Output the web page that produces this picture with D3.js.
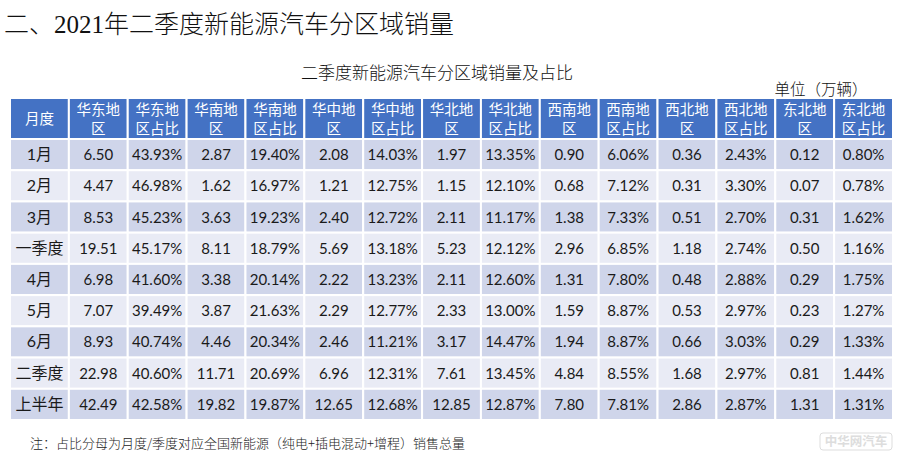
<!DOCTYPE html>
<html>
<head>
<meta charset="utf-8">
<script src="https://cdn.jsdelivr.net/npm/d3@7"></script>
<style>
  body { margin: 0; background: #fff; }
  svg { display: block; }
</style>
</head>
<body>
<div id="root"></div>
<script>
// row labels and region names
var periods = ["1月", "2月", "3月", "一季度", "4月", "5月", "6月", "二季度", "上半年"];
var regions = ["华东", "华南", "华中", "华北", "西南", "西北", "东北"];

// sales (万辆) and share (%) per region, in the order of periods
var huadongSales = [6.50, 4.47, 8.53, 19.51, 6.98, 7.07, 8.93, 22.98, 42.49];
var huadongShare = [43.93, 46.98, 45.23, 45.17, 41.60, 39.49, 40.74, 40.60, 42.58];
var huananSales = [2.87, 1.62, 3.63, 8.11, 3.38, 3.87, 4.46, 11.71, 19.82];
var huananShare = [19.40, 16.97, 19.23, 18.79, 20.14, 21.63, 20.34, 20.69, 19.87];
var huazhongSales = [2.08, 1.21, 2.40, 5.69, 2.22, 2.29, 2.46, 6.96, 12.65];
var huazhongShare = [14.03, 12.75, 12.72, 13.18, 13.23, 12.77, 11.21, 12.31, 12.68];
var huabeiSales = [1.97, 1.15, 2.11, 5.23, 2.11, 2.33, 3.17, 7.61, 12.85];
var huabeiShare = [13.35, 12.10, 11.17, 12.12, 12.60, 13.00, 14.47, 13.45, 12.87];
var xinanSales = [0.90, 0.68, 1.38, 2.96, 1.31, 1.59, 1.94, 4.84, 7.80];
var xinanShare = [6.06, 7.12, 7.33, 6.85, 7.80, 8.87, 8.87, 8.55, 7.81];
var xibeiSales = [0.36, 0.31, 0.51, 1.18, 0.48, 0.53, 0.66, 1.68, 2.86];
var xibeiShare = [2.43, 3.30, 2.70, 2.74, 2.88, 2.97, 3.03, 2.97, 2.87];
var dongbeiSales = [0.12, 0.07, 0.31, 0.50, 0.29, 0.23, 0.29, 0.81, 1.31];
var dongbeiShare = [0.80, 0.78, 1.62, 1.16, 1.75, 1.27, 1.33, 1.44, 1.31];

var salesList = [huadongSales, huananSales, huazhongSales, huabeiSales, xinanSales, xibeiSales, dongbeiSales];
var shareList = [huadongShare, huananShare, huazhongShare, huabeiShare, xinanShare, xibeiShare, dongbeiShare];

var width = 900, height = 458;
var cjk = "'Noto Sans CJK SC', sans-serif";
var num = "Lato, 'Noto Sans', sans-serif";

// build columns: first label column, then sales/share pairs
var columns = [{ key: "period", head: ["月度"] }];
regions.forEach(function (r, i) {
  columns.push({ key: "s" + i, head: [r + "地", "区"], values: salesList[i], fmt: function (v) { return v.toFixed(2); } });
  columns.push({ key: "p" + i, head: [r + "地", "区占比"], values: shareList[i], fmt: function (v) { return v.toFixed(2) + "%"; } });
});

var svg = d3.select("#root")
  .append("svg")
  .attr("width", width)
  .attr("height", height);

svg.append("rect").attr("width", width).attr("height", height).attr("fill", "#fff");

// titles
svg.append("text")
  .attr("x", 4).attr("y", 33)
  .attr("font-family", "'Liberation Serif', " + cjk)
  .attr("font-size", 25)
  .attr("font-weight", 300)
  .attr("fill", "#111")
  .text("二、2021年二季度新能源汽车分区域销量");

svg.append("text")
  .attr("x", 437).attr("y", 79)
  .attr("text-anchor", "middle")
  .attr("font-family", cjk)
  .attr("font-size", 17)
  .attr("font-weight", 300)
  .attr("fill", "#111")
  .text("二季度新能源汽车分区域销量及占比");

svg.append("text")
  .attr("x", 821).attr("y", 95)
  .attr("text-anchor", "middle")
  .attr("font-family", cjk)
  .attr("font-size", 15.5)
  .attr("font-weight", 300)
  .attr("fill", "#111")
  .text("单位（万辆）");

var x = d3.scaleBand()
  .domain(columns.map(function (c) { return c.key; }))
  .range([10, 893]);

var headTop = 98, headBottom = 139;
var y = d3.scaleBand()
  .domain(periods)
  .range([headBottom, 420]);

// header row
var head = svg.append("g");
head.selectAll("rect")
  .data(columns)
  .join("rect")
  .attr("x", function (c) { return x(c.key); })
  .attr("y", headTop)
  .attr("width", x.bandwidth())
  .attr("height", headBottom - headTop)
  .attr("fill", "#4472C4")
  .attr("stroke", "#fff")
  .attr("stroke-width", 2);

// one text element per header line
var headLines = [];
columns.forEach(function (c) {
  if (c.head.length === 1) {
    headLines.push({ key: c.key, text: c.head[0], y: 124 });
  } else {
    headLines.push({ key: c.key, text: c.head[0], y: 115 });
    headLines.push({ key: c.key, text: c.head[1], y: 134 });
  }
});

head.selectAll("text")
  .data(headLines)
  .join("text")
  .attr("x", function (d) { return x(d.key) + x.bandwidth() / 2; })
  .attr("y", function (d) { return d.y; })
  .attr("text-anchor", "middle")
  .attr("font-family", cjk)
  .attr("font-size", 14.5)
  .attr("fill", "#fff")
  .text(function (d) { return d.text; });

// body cells
var cells = [];
periods.forEach(function (p, ri) {
  columns.forEach(function (c) {
    cells.push({
      row: p, ri: ri, col: c.key,
      text: c.key === "period" ? p : c.fmt(c.values[ri]),
      label: c.key === "period"
    });
  });
});

var body = svg.append("g");
body.selectAll("rect")
  .data(cells)
  .join("rect")
  .attr("x", function (d) { return x(d.col); })
  .attr("y", function (d) { return y(d.row); })
  .attr("width", x.bandwidth())
  .attr("height", y.bandwidth())
  .attr("fill", function (d) { return d.ri % 2 === 0 ? "#CFD5EA" : "#E9EBF5"; })
  .attr("stroke", "#fff")
  .attr("stroke-width", 2);

body.selectAll("text")
  .data(cells)
  .join("text")
  .attr("x", function (d) { return x(d.col) + x.bandwidth() / 2; })
  .attr("y", function (d) { return y(d.row) + y.bandwidth() / 2 + 5.5; })
  .attr("text-anchor", "middle")
  .attr("font-family", function (d) { return d.label ? num + ", " + cjk : num; })
  .attr("font-size", function (d) { return d.label ? 16 : 15; })
  .attr("fill", "#1a1a1a")
  .text(function (d) { return d.text; });

// footnote
svg.append("text")
  .attr("x", 30).attr("y", 448)
  .attr("font-family", cjk)
  .attr("font-size", 13)
  .attr("font-weight", 300)
  .attr("fill", "#222")
  .text("注：占比分母为月度/季度对应全国新能源（纯电+插电混动+增程）销售总量");

// watermark
svg.append("rect")
  .attr("x", 820).attr("y", 433)
  .attr("width", 72).attr("height", 17)
  .attr("rx", 3)
  .attr("fill", "#fff")
  .attr("stroke", "#ddd");
svg.append("text")
  .attr("x", 856).attr("y", 446)
  .attr("text-anchor", "middle")
  .attr("font-family", cjk)
  .attr("font-size", 12.5)
  .attr("font-weight", "bold")
  .attr("fill", "#ddd")
  .text("中华网汽车");
</script>
</body>
</html>
